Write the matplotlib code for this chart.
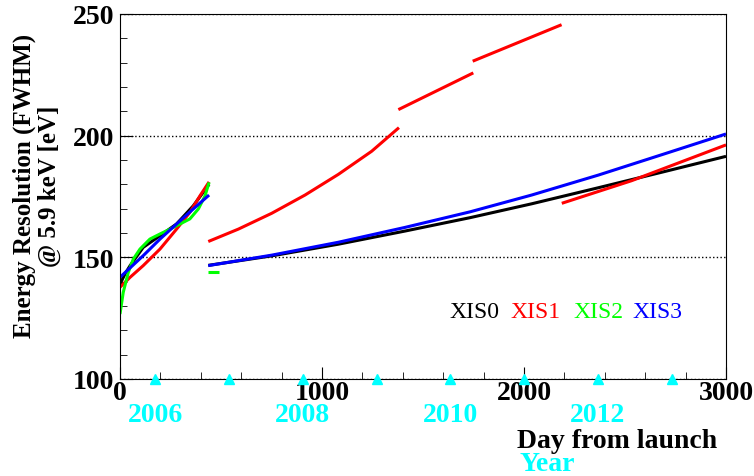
import matplotlib
matplotlib.use('Agg')
import matplotlib.pyplot as plt
from matplotlib.ticker import MultipleLocator
from matplotlib.transforms import blended_transform_factory

# values (day from launch, FWHM in eV); one list per line piece
xis0_days = [[0, 25, 50, 115, 198, 280, 363, 441],
             [437, 751, 1081, 1411, 1733, 2038, 2368, 2698, 3000]]
xis0_fwhm = [[139.0, 143.2, 146.6, 154.1, 158.9, 163.7, 171.2, 180.0],
             [146.7, 150.6, 155.4, 160.8, 166.3, 172.0, 178.6, 185.3, 191.5]]

xis1_days = [[0, 50, 115, 198, 280, 346, 396, 441],
             [437, 586, 751, 916, 1081, 1246, 1381],
             [1378, 1749],
             [1746, 2186],
             [2187, 2533, 3000]]
xis1_fwhm = [[137.7, 141.8, 146.6, 153.4, 161.6, 168.5, 175.3, 181.0],
             [156.5, 161.6, 168.1, 175.6, 184.1, 193.6, 203.3],
             [210.7, 225.8],
             [230.6, 245.6],
             [172.2, 181.5, 196.2]]

xis2_days = [[0, 16, 41, 66, 99, 148, 198, 248, 297, 346, 388, 421, 441],
             [437, 491]]
xis2_fwhm = [[126.7, 135.6, 143.8, 149.3, 153.4, 157.5, 159.6, 161.6, 163.7, 165.8, 169.9, 175.3, 180.8],
             [143.8, 143.8]]

xis3_days = [[0, 115, 198, 280, 363, 441],
             [437, 751, 1081, 1411, 1733, 2038, 2368, 2698, 3000]]
xis3_fwhm = [[141.8, 150.7, 157.5, 163.7, 169.9, 175.6],
             [146.6, 150.9, 156.2, 162.3, 168.7, 175.6, 183.8, 192.6, 200.7]]

sensors = ['XIS0', 'XIS1', 'XIS2', 'XIS3']
colors = ['black', '#ff0000', '#00ff00', '#0000ff']

# year boundaries (1 Jan) in days from launch
year_days = [175, 540, 905, 1271, 1636, 2001, 2366, 2732]
year_names = ['2006', '', '2008', '', '2010', '', '2012', '']

font = 'Liberation Serif'
fig = plt.figure(figsize=(7.54, 4.77), dpi=100)
ax = fig.add_axes([120 / 754, 97 / 477, 606 / 754, 365 / 477])

all_days = [xis0_days, xis1_days, xis2_days, xis3_days]
all_fwhm = [xis0_fwhm, xis1_fwhm, xis2_fwhm, xis3_fwhm]
for days, fwhm, c in zip(all_days, all_fwhm, colors):
    for d, f in zip(days, fwhm):
        ax.plot(d, f, color=c, lw=2.2, solid_capstyle='butt', solid_joinstyle='round')

ax.set_xlim(0, 3000)
ax.set_ylim(100, 250)
ax.xaxis.set_major_locator(MultipleLocator(1000))
ax.xaxis.set_minor_locator(MultipleLocator(200))
ax.yaxis.set_major_locator(MultipleLocator(50))
ax.yaxis.set_minor_locator(MultipleLocator(10))
ax.tick_params(which='both', direction='in', top=False, right=False,
               labelsize=20, pad=4)
ax.tick_params(axis='x', pad=1)
ax.tick_params(which='major', length=9)
ax.tick_params(which='minor', length=5)
for lab in ax.get_xticklabels() + ax.get_yticklabels():
    lab.set_fontfamily(font)
    lab.set_fontweight('bold')
ax.grid(axis='y', which='major', linestyle=':', color='black', lw=1)

# year markers along the bottom axis
trans = blended_transform_factory(ax.transData, ax.transAxes)
ax.plot(year_days, [0] * len(year_days), linestyle='none', marker='^',
        color='cyan', markersize=7, transform=trans, clip_on=False, zorder=5)
for d, name in zip(year_days, year_names):
    if name:
        ax.text(d, -0.097, name, transform=trans, ha='center', va='center',
                color='cyan', fontsize=20, fontweight='bold', fontfamily=font)

# legend as coloured labels
legend_x = [0.543, 0.6436, 0.7475, 0.8465]
for x, name, c in zip(legend_x, sensors, colors):
    ax.text(x, 0.1836, name, transform=ax.transAxes, ha='left', va='center',
            color=c, fontsize=17, fontfamily=font)

fig.text(717 / 754, 1 - 442 / 477, 'Day from launch', ha='right', va='center',
         fontsize=20, fontweight='bold', fontfamily=font)
fig.text(520 / 754, 1 - 465 / 477, 'Year', ha='left', va='center',
         fontsize=20, fontweight='bold', fontfamily=font, color='cyan')
fig.text(37 / 754, 1 - 186 / 477, 'Energy Resolution (FWHM)\n@ 5.9 keV [eV]',
         rotation=90, ha='center', va='center', multialignment='center',
         fontsize=18, fontweight='bold', fontfamily=font, linespacing=1.1)

fig.savefig('out.png', dpi=100)
